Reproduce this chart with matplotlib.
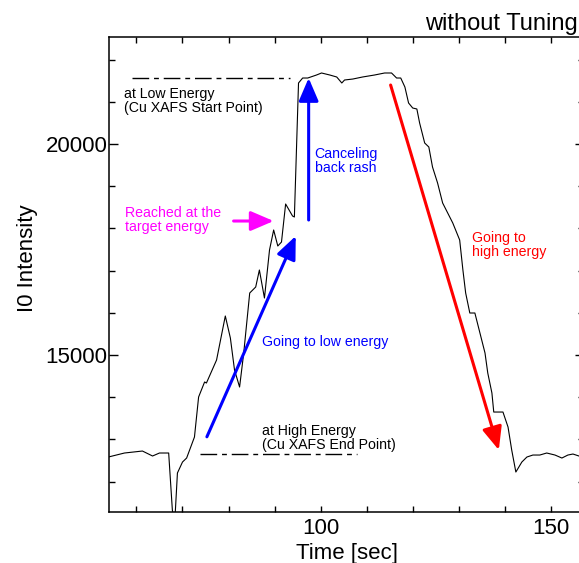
import numpy as np
import matplotlib
matplotlib.use("Agg")
import matplotlib.pyplot as plt
from matplotlib.ticker import MultipleLocator

plt.rcParams['font.family'] = ['Liberation Sans', 'DejaVu Sans']

# I0 trace (time in sec, intensity in counts)
time_s = [53.9, 57.4, 61.3, 63.5, 65.0, 67.0, 67.8, 68.3, 68.9, 70.0, 70.9, 72.6,
          73.5, 74.8, 75.2, 77.4, 79.3, 80.4, 81.3, 82.4, 83.3, 84.6, 85.9, 86.7,
          87.8, 88.9, 89.8, 90.7, 91.5, 92.4, 93.9, 94.3, 95.2, 96.1, 97.2, 99.1,
          100.2, 102.0, 103.5, 104.6, 105.2, 107.0, 109.1, 111.7, 113.9, 115.4,
          116.5, 117.4, 118.3, 119.1, 120.0, 120.9, 121.5, 122.6, 123.5, 124.3,
          125.4, 126.5, 127.6, 128.7, 130.2, 130.9, 131.5, 132.4, 133.5, 134.6,
          135.7, 136.3, 137.2, 137.6, 139.6, 140.7, 141.5, 142.4, 143.7, 144.8,
          146.1, 147.6, 149.1, 150.9, 152.4, 153.7, 154.8, 156.1, 157.2]
i0 = [12582, 12677, 12724, 12606, 12677, 12677, 11326, 11000, 12203, 12463, 12558,
      13056, 14004, 14360, 14336, 14881, 15924, 15402, 14644, 14241, 15047, 16469,
      16611, 17014, 16350, 17488, 17962, 17583, 17677, 18578, 18294, 18270, 21446,
      21564, 21564, 21635, 21683, 21635, 21588, 21446, 21517, 21540, 21588, 21635,
      21683, 21683, 21564, 21564, 21351, 20972, 20853, 20830, 20498, 20024, 19929,
      19455, 19076, 18602, 18365, 18128, 17725, 17014, 16469, 15995, 15995, 15521,
      15047, 14573, 14099, 13648, 13648, 13293, 12748, 12226, 12463, 12582, 12629,
      12629, 12677, 12629, 12558, 12629, 12653, 12606, 12600]

# reference levels (dash-dot)
low_level_t = [59.1, 93.3]
low_level_i = [21560, 21560]
high_level_t = [73.8, 107.8]
high_level_i = [12660, 12660]

# arrows: (start t, start I, end t, end I, colour)
arrows = [
    (75.3, 13061, 94.6, 17820, '#0000ff'),
    (97.4, 18199, 97.4, 21564, '#0000ff'),
    (81.1, 18175, 89.8, 18175, '#ff00ff'),
    (115.2, 21398, 138.7, 12748, '#ff0000'),
]

# notes: (t, I, text, colour)
notes = [
    (57.4, 21360, 'at Low Energy\n(Cu XAFS Start Point)', 'black'),
    (98.7, 19940, 'Canceling\nback rash', '#0000ff'),
    (57.6, 18540, 'Reached at the\ntarget energy', '#ff00ff'),
    (87.2, 15470, 'Going to low energy', '#0000ff'),
    (87.2, 13360, 'at High Energy\n(Cu XAFS End Point)', 'black'),
    (132.8, 17950, 'Going to\nhigh energy', '#ff0000'),
]

fig = plt.figure(figsize=(5.79, 5.63), dpi=100)
ax = fig.add_axes([109 / 579, 51 / 563, 475 / 579, 475 / 563])

ax.plot(time_s, i0, color='black', lw=0.8)
ax.plot(low_level_t, low_level_i, color='black', lw=1.0, dashes=(12, 3.5, 3.5, 3.5))
ax.plot(high_level_t, high_level_i, color='black', lw=1.0, dashes=(12, 3.5, 3.5, 3.5))

for t0, y0, t1, y1, c in arrows:
    ax.annotate('', xy=(t1, y1), xytext=(t0, y0),
                arrowprops=dict(arrowstyle='-|>,head_length=0.7,head_width=0.3',
                                color=c, lw=2.2, mutation_scale=20,
                                shrinkA=0, shrinkB=0))

for t, y, s, c in notes:
    ax.text(t, y, s, color=c, fontsize=10.2, ha='left', va='top', linespacing=1.0)

ax.set_xlim(54.04, 157.2)
ax.set_ylim(11279, 22536)
ax.xaxis.set_major_locator(MultipleLocator(50))
ax.xaxis.set_minor_locator(MultipleLocator(10))
ax.yaxis.set_major_locator(MultipleLocator(5000))
ax.yaxis.set_minor_locator(MultipleLocator(1000))
ax.tick_params(which='both', direction='in', top=True, right=True,
               labelsize=16, width=1.0)
ax.tick_params(axis='x', which='both', length=4.5, pad=4)
ax.tick_params(axis='y', which='major', length=6.5, pad=1)
ax.tick_params(axis='y', which='minor', length=4.5)
for sp in ax.spines.values():
    sp.set_linewidth(1.1)

ax.set_xlabel('Time [sec]', fontsize=16, labelpad=3.5)
ax.set_ylabel('I0 Intensity', fontsize=16)
ax.yaxis.set_label_coords(-0.15, 0.535)

fig.text(425 / 579, 1 - 30 / 563, 'without Tuning', fontsize=17,
         ha='left', va='baseline')

fig.savefig('out.png', dpi=100)
